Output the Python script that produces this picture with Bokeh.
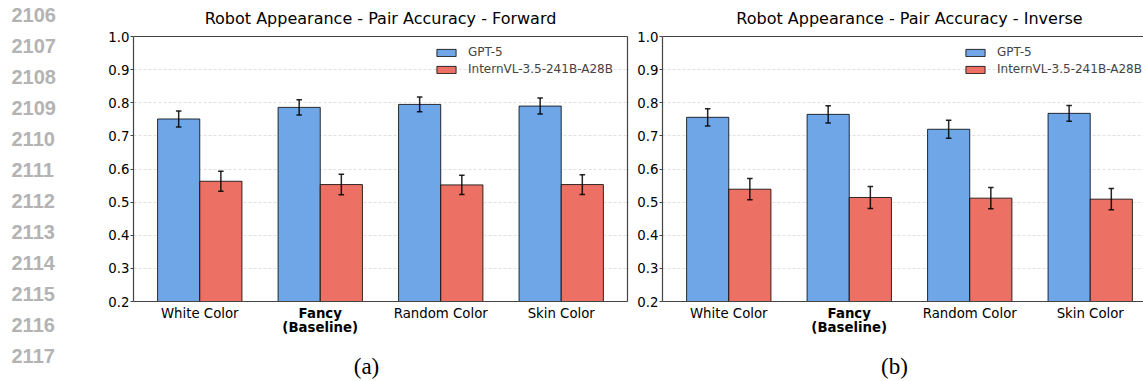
from bokeh.plotting import figure
from bokeh.models import (ColumnDataSource, Legend, LegendItem,
                          FixedTicker, PrintfTickFormatter, Range1d)
from bokeh.layouts import row
from bokeh.core.properties import value
from bokeh.embed import file_html
from bokeh.resources import INLINE

# ---------------- data ----------------
categories = ["White Color", "Fancy\n(Baseline)", "Random Color", "Skin Color"]
bold_categories = ["Fancy\n(Baseline)"]
series_names = ["GPT-5", "InternVL-3.5-241B-A28B"]

fwd_gpt5 = [0.751, 0.786, 0.795, 0.790]
fwd_gpt5_err = [0.024, 0.023, 0.022, 0.024]
fwd_intern = [0.563, 0.553, 0.552, 0.553]
fwd_intern_err = [0.030, 0.031, 0.029, 0.030]

inv_gpt5 = [0.756, 0.765, 0.720, 0.768]
inv_gpt5_err = [0.026, 0.026, 0.027, 0.024]
inv_intern = [0.539, 0.514, 0.512, 0.509]
inv_intern_err = [0.032, 0.033, 0.032, 0.032]

y_ticks = [0.2, 0.3, 0.4, 0.5, 0.6, 0.7, 0.8, 0.9, 1.0]
titles = ["Robot Appearance - Pair Accuracy - Forward",
          "Robot Appearance - Pair Accuracy - Inverse"]
captions = ["(a)", "(b)"]
line_numbers = ["2106", "2107", "2108", "2109", "2110", "2111",
                "2112", "2113", "2114", "2115", "2116", "2117"]

# ---------------- style ----------------
BLUE = "#6EA6E8"
RED = "#EC7063"
FONT = "DejaVu Sans"
SPINE = "#444444"
BAR_W = 0.35
H = 381
Y_TOP_PX = 36            # pixel row of accuracy 1.0
Y_BOT_PX = 301           # pixel row of accuracy 0.2
PX_Y = (Y_BOT_PX - Y_TOP_PX) / 0.8
PX_X = 494 / 4.1         # pixels per category unit
NUM_W = 70
X0 = -0.55
SHIFT = 0.3              # baseline correction (in em) for text glyphs


def py(pix, size=0.0):
    """pixel row -> accuracy-axis value (with baseline correction)"""
    return 1.0 - (pix - SHIFT * size - Y_TOP_PX) / PX_Y


def make_panel(gpt, gpt_err, intern, intern_err, title, caption, caption_px,
               width, border_left, frame_px, x_spine):
    x_end = X0 + frame_px / PX_X
    y_start = 0.2 - (H - Y_BOT_PX) / PX_Y
    y_end = 1.0 + Y_TOP_PX / PX_Y
    p = figure(width=width, height=H, output_backend="svg",
               toolbar_location=None, x_range=Range1d(X0, x_end),
               y_range=Range1d(y_start, y_end), x_axis_location=None,
               min_border_left=border_left,
               min_border_right=width - border_left - frame_px,
               min_border_top=0, min_border_bottom=0)
    p.background_fill_color = "white"
    p.border_fill_color = "white"
    p.outline_line_color = None

    idx = list(range(len(categories)))
    src_g = ColumnDataSource(dict(x=[i - BAR_W / 2 for i in idx], top=gpt,
                                  lo=[v - e for v, e in zip(gpt, gpt_err)],
                                  hi=[v + e for v, e in zip(gpt, gpt_err)]))
    src_i = ColumnDataSource(dict(x=[i + BAR_W / 2 for i in idx], top=intern,
                                  lo=[v - e for v, e in zip(intern, intern_err)],
                                  hi=[v + e for v, e in zip(intern, intern_err)]))

    p.ygrid.ticker = FixedTicker(ticks=y_ticks)
    p.ygrid.grid_line_color = "#d0d0d0"
    p.ygrid.grid_line_alpha = 0.8
    p.ygrid.grid_line_dash = "3 2"
    p.ygrid.grid_line_width = 0.8
    p.ygrid.bounds = (0.2, 1.0)
    p.xgrid.visible = False

    r_g = p.vbar(x="x", top="top", bottom=0.2, width=BAR_W, source=src_g,
                 fill_color=BLUE, line_color="black", line_alpha=0.8, line_width=1)
    r_i = p.vbar(x="x", top="top", bottom=0.2, width=BAR_W, source=src_i,
                 fill_color=RED, line_color="black", line_alpha=0.8, line_width=1)

    cap = 0.023
    for src in (src_g, src_i):
        p.segment(x0="x", y0="lo", x1="x", y1="hi", source=src,
                  line_color="black", line_alpha=0.85, line_width=1.5)
        d = src.data
        for key in ("lo", "hi"):
            p.segment(x0=[x - cap for x in d["x"]], y0=d[key],
                      x1=[x + cap for x in d["x"]], y1=d[key],
                      line_color="black", line_alpha=0.85, line_width=1.5)

    # spines
    p.segment(x0=[X0], y0=[0.2], x1=[x_spine], y1=[0.2], line_color=SPINE,
              line_width=1.2)
    p.segment(x0=[X0], y0=[1.0], x1=[x_spine], y1=[1.0], line_color=SPINE,
              line_width=1.2)
    if x_spine < x_end:
        p.segment(x0=[x_spine], y0=[0.2], x1=[x_spine], y1=[1.0],
                  line_color=SPINE, line_width=1.2)

    # y axis
    p.yaxis.ticker = FixedTicker(ticks=y_ticks)
    p.yaxis.bounds = (0.2, 1.0)
    p.yaxis.formatter = PrintfTickFormatter(format="%.1f")
    p.yaxis.axis_line_color = SPINE
    p.yaxis.axis_line_width = 1.2
    p.yaxis.major_tick_line_color = SPINE
    p.yaxis.major_tick_out = 3
    p.yaxis.major_tick_in = 0
    p.yaxis.minor_tick_line_color = None
    p.yaxis.major_label_standoff = 1
    p.yaxis.major_label_text_font = FONT
    p.yaxis.major_label_text_font_size = "13.3px"
    p.yaxis.major_label_text_color = "black"

    legend = Legend(items=[LegendItem(label=series_names[0], renderers=[r_g]),
                           LegendItem(label=series_names[1], renderers=[r_i])],
                    location=(301, 225 + (H - Y_BOT_PX)), orientation="vertical",
                    label_text_font=FONT, label_text_font_size="12px",
                    glyph_width=24, glyph_height=9, label_standoff=10,
                    spacing=3, padding=0, margin=0, border_line_color=None,
                    background_fill_alpha=0)
    p.add_layout(legend)

    # title (centred over the axes)
    p.text(x=[1.5], y=[py(22.7, 16)], text=[title], text_font=value(FONT),
           text_font_size=value("16px"), text_align="center",
           text_baseline="alphabetic", text_color="black")

    # category names below the bars
    first, second, sx, styles = [], [], [], []
    for i, cat in enumerate(categories):
        parts = cat.split("\n")
        first.append(parts[0])
        styles.append("bold" if cat in bold_categories else "normal")
        if len(parts) > 1:
            second.append(parts[1])
            sx.append(i)
    lab1 = ColumnDataSource(dict(x=idx, y=[py(317, 13.3)] * len(idx),
                                 text=first, style=styles))
    p.text(x="x", y="y", text="text", source=lab1, text_font=value(FONT),
           text_font_size=value("13.3px"), text_font_style="style",
           text_align="center", text_baseline="alphabetic", text_color="black")
    lab2 = ColumnDataSource(dict(x=sx, y=[py(331, 13.3)] * len(sx), text=second))
    p.text(x="x", y="y", text="text", source=lab2, text_font=value(FONT),
           text_font_size=value("13.3px"), text_font_style="bold",
           text_align="center", text_baseline="alphabetic", text_color="black")
    p.text(x=[X0 + caption_px / PX_X], y=[py(372.5, 23)], text=[caption],
           text_font=value("Liberation Serif"), text_font_size=value("23px"),
           text_align="center", text_baseline="alphabetic", text_color="black")
    return p


# ---- line-number strip ----
nums = figure(width=NUM_W, height=H, output_backend="svg",
              toolbar_location=None, x_range=Range1d(0, NUM_W),
              y_range=Range1d(H, 0), x_axis_location=None,
              y_axis_location=None, min_border_left=0, min_border_right=0,
              min_border_top=0, min_border_bottom=0)
nums.outline_line_color = None
nums.grid.visible = False
nums.text(x=[11] * len(line_numbers),
          y=[20 - SHIFT * 20 + 31.06 * k for k in range(len(line_numbers))],
          text=line_numbers, text_font=value("Liberation Sans"),
          text_font_size=value("20px"), text_font_style="bold",
          text_align="left", text_baseline="alphabetic", text_color="#b3b3b3")

left = make_panel(fwd_gpt5, fwd_gpt5_err, fwd_intern, fwd_intern_err,
                  titles[0], captions[0], 233,
                  width=630 - NUM_W, border_left=133 - NUM_W, frame_px=496,
                  x_spine=3.55)
right = make_panel(inv_gpt5, inv_gpt5_err, inv_intern, inv_intern_err,
                   titles[1], captions[1], 232,
                   width=1143 - 630, border_left=32, frame_px=481,
                   x_spine=X0 + 481 / PX_X)

layout = row(nums, left, right, spacing=0)
open("out.html", "w").write(file_html(layout, INLINE))
